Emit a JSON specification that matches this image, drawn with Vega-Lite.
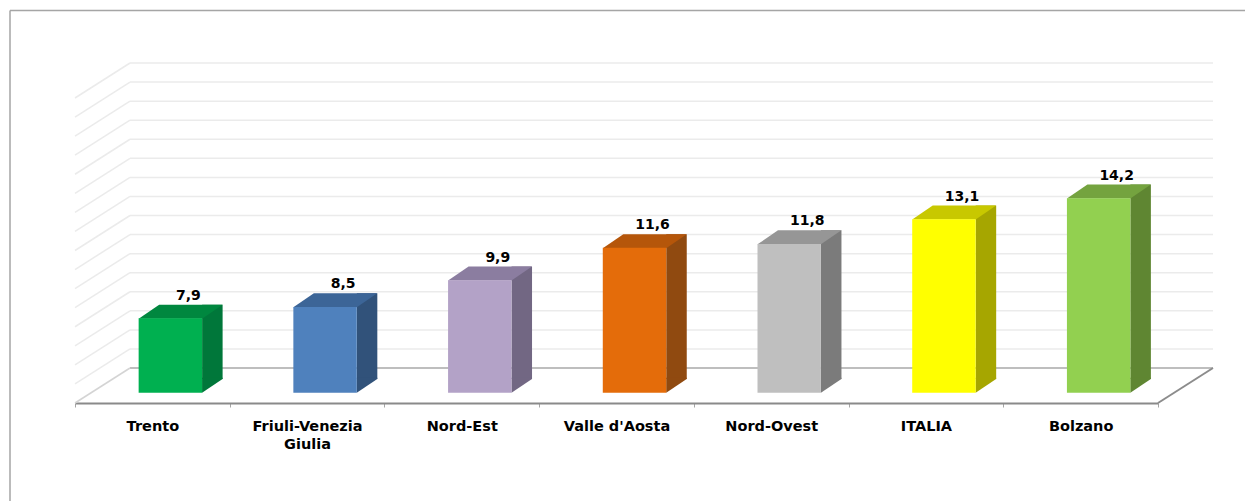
{
  "$schema": "https://vega.github.io/schema/vega-lite/v6.json",
  "autosize": {"type": "none"},
  "width": 1083,
  "height": 305,
  "padding": {"left": 75, "top": 98, "right": 87, "bottom": 98},
  "background": "white",
  "config": {
    "view": {"stroke": null},
    "font": "DejaVu Sans",
    "locale": {"number": {"decimal": ",", "thousands": ".", "grouping": [3], "currency": ["", " €"]}}
  },
  "datasets": {
    "rates": [
      {"region": "Trento", "value": 7.9},
      {"region": "Friuli-Venezia Giulia", "value": 8.5},
      {"region": "Nord-Est", "value": 9.9},
      {"region": "Valle d'Aosta", "value": 11.6},
      {"region": "Nord-Ovest", "value": 11.8},
      {"region": "ITALIA", "value": 13.1},
      {"region": "Bolzano", "value": 14.2}
    ],
    "grid": [
      {"v": 4}, {"v": 5}, {"v": 6}, {"v": 7}, {"v": 8}, {"v": 9}, {"v": 10}, {"v": 11}, {"v": 12},
      {"v": 13}, {"v": 14}, {"v": 15}, {"v": 16}, {"v": 17}, {"v": 18}, {"v": 19}, {"v": 20}
    ],
    "frame": [{}]
  },
  "resolve": {"scale": {"x": "independent"}, "axis": {"x": "independent"}},
  "layer": [
    {
      "data": {"name": "grid"},
      "encoding": {
        "x": {"datum": 0, "type": "quantitative", "scale": {"domain": [0, 1]}, "axis": null},
        "y": {"field": "v", "type": "quantitative", "scale": {"domain": [4, 20], "zero": false, "nice": false}, "axis": null}
      },
      "layer": [
        {
          "mark": {"type": "rule", "xOffset": 55, "x2Offset": 55, "yOffset": -35, "strokeWidth": 1.5},
          "encoding": {
            "x2": {"datum": 1},
            "color": {"condition": {"test": "datum.v === 4", "value": "#a8a8a8"}, "value": "#ebebeb"}
          }
        },
        {
          "mark": {"type": "rule", "x2Offset": 55, "y2Offset": -35, "strokeWidth": 1.5},
          "encoding": {
            "x2": {"datum": 0},
            "y2": {"field": "v"},
            "color": {"condition": {"test": "datum.v === 4", "value": "#d4d4d4"}, "value": "#ebebeb"}
          }
        }
      ]
    },
    {
      "data": {"name": "frame"},
      "mark": {"type": "rule", "x2Offset": 55, "y2Offset": -35, "strokeWidth": 2, "color": "#8c8c8c"},
      "encoding": {
        "x": {"datum": 1, "type": "quantitative", "scale": {"domain": [0, 1]}, "axis": null},
        "x2": {"datum": 1},
        "y": {"datum": 4, "type": "quantitative", "scale": {"domain": [4, 20], "zero": false, "nice": false}, "axis": null},
        "y2": {"datum": 4}
      }
    },
    {
      "data": {"name": "frame"},
      "encoding": {
        "x": {"datum": 0, "type": "quantitative", "scale": {"domain": [0, 1]}, "axis": null},
        "y": {"datum": 20, "type": "quantitative", "scale": {"domain": [4, 20], "zero": false, "nice": false}, "axis": null}
      },
      "layer": [
        {
          "mark": {"type": "rule", "xOffset": -65, "x2Offset": 200, "yOffset": -87.5, "strokeWidth": 1.5, "color": "#a5a5a5"},
          "encoding": {"x2": {"datum": 1}}
        },
        {
          "mark": {"type": "rule", "xOffset": -65, "yOffset": -87.5, "y2Offset": 200, "strokeWidth": 1.5, "color": "#a5a5a5"},
          "encoding": {"y2": {"datum": 4}}
        }
      ]
    },
    {
      "data": {"name": "rates"},
      "encoding": {
        "x": {
          "field": "region",
          "type": "nominal",
          "sort": null,
          "scale": {"paddingInner": 0, "paddingOuter": 0},
          "axis": {
            "title": null,
            "labelAngle": 0,
            "labelFont": "DejaVu Sans",
            "labelFontSize": 14.5,
            "labelFontWeight": "bold",
            "labelColor": "#000000",
            "labelPadding": 12,
            "labelLineHeight": 18,
            "labelExpr": "datum.label == 'Friuli-Venezia Giulia' ? ['Friuli-Venezia', 'Giulia'] : datum.label",
            "domainColor": "#8a8a8a",
            "domainWidth": 2,
            "tickColor": "#a6a6a6",
            "tickSize": 4,
            "tickWidth": 1,
            "tickBand": "extent",
            "grid": false
          }
        },
        "y": {"field": "value", "type": "quantitative", "scale": {"domain": [4, 20], "zero": false, "nice": false}, "axis": null}
      },
      "resolve": {"scale": {"color": "independent"}},
      "layer": [
        {
          "mark": {"type": "bar", "width": 20.5, "xOffset": 60, "yOffset": -24, "y2Offset": -24},
          "encoding": {
            "y2": {"datum": 4},
            "color": {
              "field": "region", "type": "nominal", "legend": null,
              "scale": {
                "domain": ["Trento", "Friuli-Venezia Giulia", "Nord-Est", "Valle d'Aosta", "Nord-Ovest", "ITALIA", "Bolzano"],
                "range": ["#00773A", "#31527A", "#726783", "#904A10", "#7B7B7B", "#A6A600", "#5F8632"]
              }
            }
          }
        },
        {
          "mark": {"type": "point", "shape": "M 0 0 L 0 -15 L 20.5 -15 L 20.5 -13.7 Z", "size": 4, "filled": true, "opacity": 1, "strokeWidth": 0, "xOffset": 49.7, "yOffset": -10.3},
          "encoding": {
            "y": {"datum": 4, "type": "quantitative"},
            "color": {
              "field": "region", "type": "nominal", "legend": null,
              "scale": {
                "domain": ["Trento", "Friuli-Venezia Giulia", "Nord-Est", "Valle d'Aosta", "Nord-Ovest", "ITALIA", "Bolzano"],
                "range": ["#00773A", "#31527A", "#726783", "#904A10", "#7B7B7B", "#A6A600", "#5F8632"]
              }
            }
          }
        },
        {
          "mark": {"type": "point", "shape": "M -31.7 0.3 L 31.7 0.3 L 52.2 -13.7 L -11.2 -13.7 Z", "size": 4, "filled": true, "opacity": 1, "strokeWidth": 0, "xOffset": 18, "yOffset": -10.3},
          "encoding": {
            "color": {
              "field": "region", "type": "nominal", "legend": null,
              "scale": {
                "domain": ["Trento", "Friuli-Venezia Giulia", "Nord-Est", "Valle d'Aosta", "Nord-Ovest", "ITALIA", "Bolzano"],
                "range": ["#00873F", "#3C6597", "#8B7DA0", "#B5560A", "#969696", "#C8C800", "#74A33F"]
              }
            }
          }
        },
        {
          "mark": {"type": "bar", "width": {"band": 0.41}, "xOffset": 18, "yOffset": -10.3, "y2Offset": -10.3},
          "encoding": {
            "y2": {"datum": 4},
            "color": {
              "field": "region", "type": "nominal", "legend": null,
              "scale": {
                "domain": ["Trento", "Friuli-Venezia Giulia", "Nord-Est", "Valle d'Aosta", "Nord-Ovest", "ITALIA", "Bolzano"],
                "range": ["#00B050", "#4F81BD", "#B3A2C7", "#E46C0A", "#BFBFBF", "#FFFF00", "#92D050"]
              }
            }
          }
        },
        {
          "mark": {"type": "text", "xOffset": 36, "yOffset": -29, "baseline": "alphabetic", "align": "center", "font": "DejaVu Sans", "fontSize": 14, "fontWeight": "bold", "color": "#000000"},
          "encoding": {
            "text": {"field": "value", "type": "quantitative", "format": ".1f"}
          }
        }
      ]
    }
  ]
}
